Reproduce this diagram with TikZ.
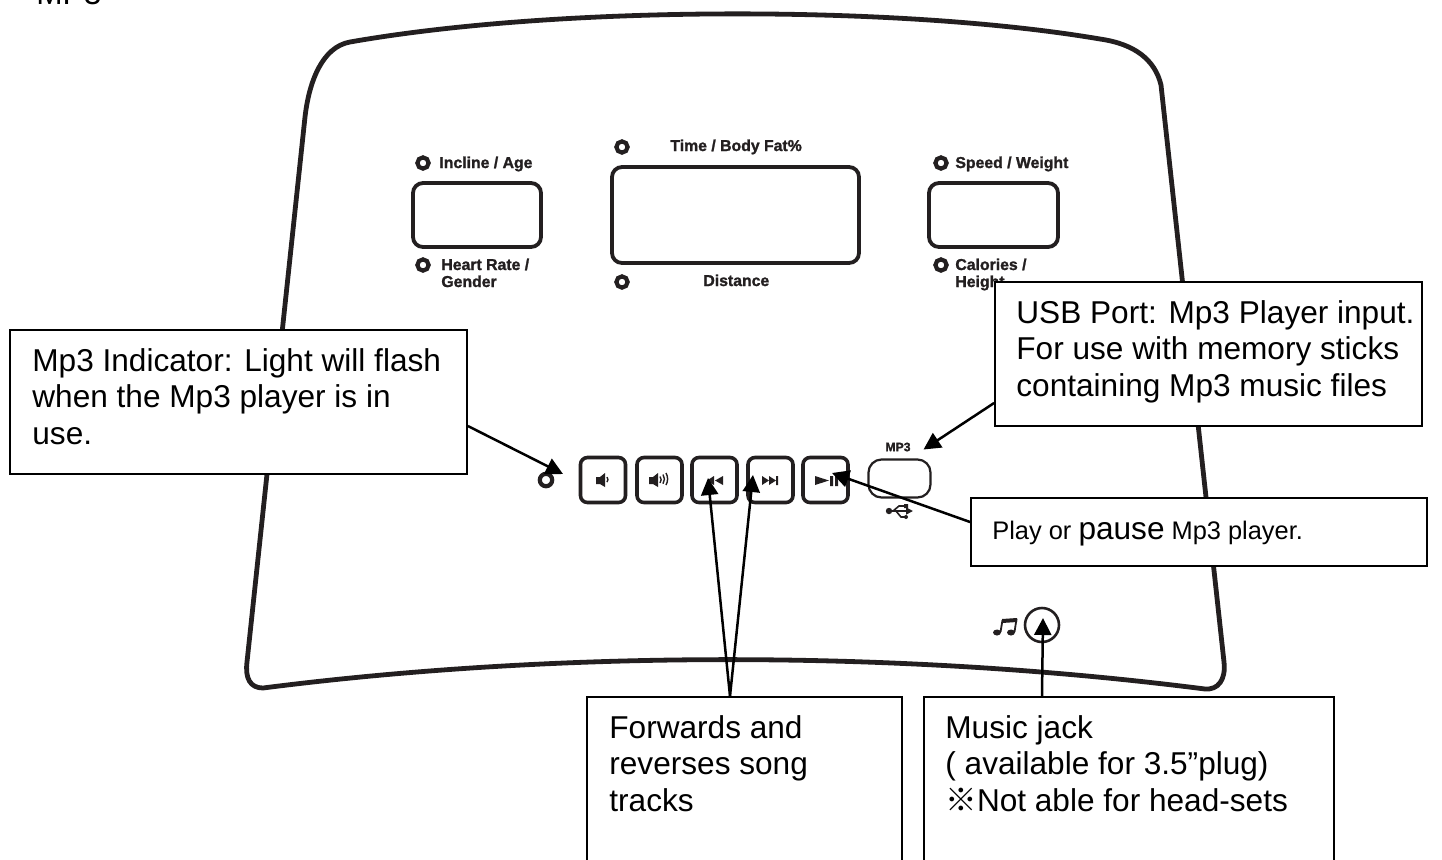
\documentclass[tikz,border=0pt]{standalone}
\usepackage{fontspec}
\setmainfont{Liberation Sans}
\newfontfamily\heavyf{Liberation Sans}[BoldFeatures={FakeBold=1.4}]
\newfontfamily\cjkf{Noto Sans CJK SC}
\usetikzlibrary{arrows.meta}
\definecolor{ink}{HTML}{231F20}
\tikzset{
  x=0.5pt,y=-0.5pt,
  panel/.style={draw=ink,line width=2.4pt,line join=round},
  lcd/.style={draw=ink,line width=1.9pt,rounded corners=5pt,fill=white},
  btn/.style={draw=ink,line width=1.8pt,rounded corners=3.5pt},
  led/.style={circle,draw=ink,line width=2.1pt,inner sep=0pt,minimum size=5.6pt},
  lab/.style={font=\heavyf\bfseries\fontsize{7.9pt}{8.6pt}\selectfont,text=ink,inner sep=0pt,anchor=base west,align=left},
  callout/.style={draw=black,line width=0.9pt,fill=white,inner sep=0pt},
  ctext/.style={font=\fontsize{15.8pt}{18.2pt}\selectfont,inner sep=0pt,anchor=north west,align=left,text=black},
  pointer/.style={draw=black,line width=1.25pt,-{Triangle[length=8.5pt,width=8.5pt]}},
  icon/.style={fill=ink,draw=none},
}
\begin{document}
\begin{tikzpicture}
\useasboundingbox (0,0) rectangle (1442,859);
\clip (0,0) rectangle (1442,859);
\fill[white] (0,0) rectangle (1442,859);
\node[font=\fontsize{15.8pt}{17pt}\selectfont,inner sep=0pt,anchor=base west] (title) at (36,4.5) {MP3};
% panel outline
\draw[panel] (305,117) .. controls (309,82) and (322,47) .. (350,42)
  .. controls (560,5) and (900,5) .. (1100,39)
  .. controls (1135,44) and (1155,60) .. (1161,85)
  -- (1224,662) .. controls (1226,680) and (1218,690) .. (1205,689)
  .. controls (900,650) and (560,650) .. (263,688)
  .. controls (250,688) and (245,678) .. (247,662) -- cycle;
% displays
\node[lcd,minimum width=64pt,minimum height=32pt] (dl) at (477,215) {};
\node[lcd,minimum width=123.5pt,minimum height=48pt] (dc) at (735.5,215) {};
\node[lcd,minimum width=64.5pt,minimum height=32pt] (dr) at (993.5,215) {};
% LEDs
\foreach \n/\x/\y in {l1/423/163,l2/423/265,c1/622/147,c2/622/282,r1/941/163,r2/941/265}
  \node[led] (\n) at (\x,\y) {};
\node[led,minimum size=6.2pt] (m) at (546,480) {};
% labels
\node[lab] (tinc) at (439,168) {Incline / Age};
\node[lab] (thr) at (441,270) {Heart Rate /};
\node[lab] (thr2) at (441,287) {Gender};
\node[lab] (ttime) at (670,151) {Time / Body Fat\%};
\node[lab] (tdist) at (703,286) {Distance};
\node[lab] (tspd) at (955,168) {Speed / Weight};
\node[lab] (tcal) at (955,270) {Calories /};
\node[lab] (tcal2) at (955,287) {Height};
% buttons
\foreach \n/\x in {b1/603,b2/659.5,b3/714.5,b4/770.5,b5/825.5}
  \node[btn,minimum width=22.5pt,minimum height=22.5pt] (\n) at (\x,480) {};
\node[btn,line width=1.1pt,rounded corners=6.5pt,minimum width=31pt,minimum height=19pt] (usb) at (899.5,478.5) {};
\node[font=\heavyf\bfseries\fontsize{6.1pt}{7pt}\selectfont,text=ink,inner sep=0pt] (tmp3) at (898,447) {MP3};
% button icons
\fill[icon] (596,477) rectangle (600,484) (600,477) -- (605,473) -- (605,487) -- (600,484) -- cycle;
\draw[ink,line width=.7pt] (607,477) arc (-40:40:4);
\fill[icon] (649,477) rectangle (653,484) (653,477) -- (658,473) -- (658,487) -- (653,484) -- cycle;
\draw[ink,line width=.7pt] (660,476.5) arc (-40:40:5) (663,474.5) arc (-35:35:8) (666,473) arc (-30:30:12);
\fill[icon] (707,480.5) -- (714,476) -- (714,485) -- cycle (715,480.5) -- (723,476) -- (723,485) -- cycle;
\fill[icon] (762,476) -- (769,480.5) -- (762,485) -- cycle (769,476) -- (776,480.5) -- (769,485) -- cycle (776,476) rectangle (778,485);
\fill[icon] (815,476) -- (829,480.5) -- (815,485) -- cycle (830,476) rectangle (833,486) (835,476) rectangle (838,486);
% usb symbol
\fill[icon] (889,511) circle (3.2);
\draw[ink,line width=.8pt,-{Triangle[length=3.5pt,width=3.5pt]}] (889,511) -- (913,511);
\draw[ink,line width=.8pt] (893,511) -- (899,506) -- (905,506) (896,511) -- (901,517) -- (906,517);
\fill[icon] (904,504) rectangle (908,508) (906,517) circle (2);
% jack and notes
\node[circle,draw=ink,line width=1.3pt,inner sep=0pt,minimum size=17pt] (jack) at (1042,625) {};
\fill[icon] (997,632.5) ellipse (4 and 3) (1011,632.5) ellipse (4 and 3);
\fill[icon] (1002,619) -- (1017,618) -- (1017,622) -- (1002,623) -- cycle;
\draw[ink,line width=.9pt] (1000.5,632) -- (1002.5,620) (1014.5,632) -- (1016.5,619);
% callouts
\node[callout,minimum width=228.5pt,minimum height=72pt] (boxm) at (238.5,402) {};
\node[ctext] (tm) at (32,348) {Mp3 Indicator: Light will flash\\when the Mp3 player is in\\use.};
\node[callout,minimum width=213.5pt,minimum height=72pt] (boxu) at (1208.5,354) {};
\node[ctext] (tu) at (1016,300) {USB Port: Mp3 Player input.\\For use with memory sticks\\containing Mp3 music files};
\node[callout,minimum width=228pt,minimum height=34pt] (boxp) at (1199,532) {};
\node[ctext,font=\fontsize{12.7pt}{14pt}\selectfont,anchor=base west] (tp) at (992,539) {Play or {\fontsize{15.8pt}{14pt}\selectfont pause} Mp3 player.};
\node[callout,minimum width=157.5pt,minimum height=91.5pt] (boxf) at (744.5,788.5) {};
\node[ctext] (tf) at (609,715) {Forwards and\\reverses song\\tracks};
\node[callout,minimum width=205pt,minimum height=91.5pt] (boxj) at (1129,788.5) {};
\node[ctext] (tj) at (945,715) {Music jack\\( available for 3.5”plug)\\{\cjkf ※}Not able for head-sets};
% connector ends
\coordinate[shift={(0,24)}] (sm) at (boxm.east);
\coordinate[shift={(0,49)}] (su) at (boxu.west);
\coordinate[shift={(0,-10)}] (sp) at (boxp.west);
\coordinate[shift={(-14.5,0)}] (sf) at (boxf.north);
\coordinate (sj) at (jack.center |- boxj.north);
\coordinate[shift={(17,-6)}] (pm) at (m.center);
\coordinate[shift={(24,-29)}] (pu) at (usb.center);
\coordinate[shift={(6.5,-7)}] (pp) at (b5.center);
\coordinate[shift={(-6.5,-2)}] (pa) at (b3.center);
\coordinate[shift={(-17.5,-5)}] (pb) at (b4.center);
\coordinate[shift={(1,-7)}] (pj) at (jack.center);
\draw[pointer] (sm) -- (pm);
\draw[pointer] (su) -- (pu);
\draw[pointer] (sp) -- (pp);
\draw[pointer] (sf) -- (pa);
\draw[pointer] (sf) -- (pb);
\draw[pointer] (sj) -- (pj);
\end{tikzpicture}
\end{document}
